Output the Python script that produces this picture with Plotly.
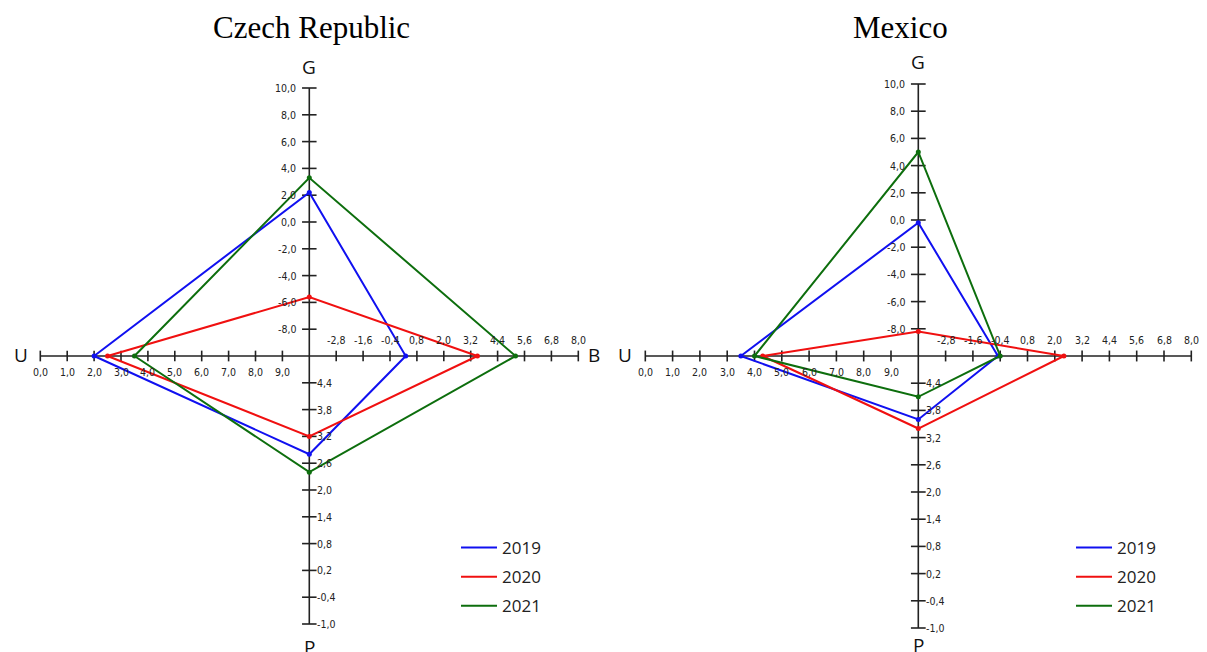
import plotly.graph_objects as go

# ---------------- data ----------------
years = ["2019", "2020", "2021"]
colors = ["#1010f0", "#f01010", "#0d6e0d"]

cz_U = [2.0, 2.5, 3.5]
cz_G = [2.2, -5.6, 3.3]
cz_B = [0.3, 3.5, 5.2]
cz_P = [2.8, 3.2, 2.4]

mx_U = [3.5, 4.3, 4.0]
mx_G = [-0.2, -8.2, 5.0]
mx_B = [-0.5, 2.4, -0.4]
mx_P = [3.6, 3.4, 4.1]

U_ticks = [0.0, 1.0, 2.0, 3.0, 4.0, 5.0, 6.0, 7.0, 8.0, 9.0]
B_ticks = [-2.8, -1.6, -0.4, 0.8, 2.0, 3.2, 4.4, 5.6, 6.8, 8.0]
G_ticks = [-8.0, -6.0, -4.0, -2.0, 0.0, 2.0, 4.0, 6.0, 8.0, 10.0]
P_ticks = [4.4, 3.8, 3.2, 2.6, 2.0, 1.4, 0.8, 0.2, -0.4, -1.0]

titles = ["Czech Republic", "Mexico"]

# ---------------- scales (arm units: 10 per arm) ----------------
def ux(u):
    return u - 10.0

def bx(b):
    return (b + 4.0) / 1.2

def gy(g):
    return (g + 10.0) / 2.0

def py(p):
    return (p - 5.0) / 0.6

def fmt(v):
    return ("%.1f" % v).replace(".", ",")

W, H = 1199, 644
fig = go.Figure()

panels = [
    dict(xa="x", ya="y", U=cz_U, G=cz_G, B=cz_B, P=cz_P, legend="legend", title=titles[0],
         ty=12.25, tx=0.08, gy_lab=10.8, py_lab=-10.86),
    dict(xa="x2", ya="y2", U=mx_U, G=mx_G, B=mx_B, P=mx_P, legend="legend2", title=titles[1],
         ty=12.06, tx=-0.67, gy_lab=10.8, py_lab=-10.62),
]

axis_col = "#222222"
tick_font = dict(family="DejaVu Sans Condensed, Liberation Sans Narrow, Arial", size=10.5, color="#222222")
lab_font = dict(family="Open Sans, Noto Sans, Arial", size=19, color="#111111")

annotations = []
for k, pn in enumerate(panels):
    xa, ya = pn["xa"], pn["ya"]
    # cross axes
    fig.add_trace(go.Scatter(x=[ux(0.0), bx(8.0), None, 0, 0], y=[0, 0, None, py(-1.0), gy(10.0)],
                             mode="lines", line=dict(color=axis_col, width=1.6),
                             xaxis=xa, yaxis=ya, showlegend=False, hoverinfo="skip"))
    # ticks
    tx, ty = [], []
    for u in U_ticks:
        tx += [ux(u), ux(u), None]; ty += [-0.2, 0.2, None]
    for b in B_ticks:
        tx += [bx(b), bx(b), None]; ty += [-0.2, 0.2, None]
    for g in G_ticks:
        tx += [-0.27, 0.27, None]; ty += [gy(g), gy(g), None]
    for p in P_ticks:
        tx += [-0.27, 0.27, None]; ty += [py(p), py(p), None]
    fig.add_trace(go.Scatter(x=tx, y=ty, mode="lines", line=dict(color=axis_col, width=1.6),
                             xaxis=xa, yaxis=ya, showlegend=False, hoverinfo="skip"))
    # tick labels
    for u in U_ticks:
        annotations.append(dict(x=ux(u), y=-0.6, xref=xa, yref=ya, text=fmt(u), showarrow=False,
                                font=tick_font, xanchor="center", yanchor="middle"))
    for b in B_ticks:
        annotations.append(dict(x=bx(b), y=0.58, xref=xa, yref=ya, text=fmt(b), showarrow=False,
                                font=tick_font, xanchor="center", yanchor="middle"))
    for g in G_ticks:
        annotations.append(dict(x=-0.42, y=gy(g), xref=xa, yref=ya, text=fmt(g), showarrow=False,
                                font=tick_font, xanchor="right", yanchor="middle"))
    for p in P_ticks:
        annotations.append(dict(x=0.22, y=py(p), xref=xa, yref=ya, text=fmt(p), showarrow=False,
                                font=tick_font, xanchor="left", yanchor="middle"))
    # axis letters
    annotations.append(dict(x=-10.4, y=0.05, xref=xa, yref=ya, text="U", showarrow=False, font=lab_font,
                            xanchor="right", yanchor="middle"))
    annotations.append(dict(x=10.3, y=0.05, xref=xa, yref=ya, text="B", showarrow=False, font=lab_font,
                            xanchor="left", yanchor="middle"))
    annotations.append(dict(x=0, y=pn["gy_lab"], xref=xa, yref=ya, text="G", showarrow=False, font=lab_font,
                            xanchor="center", yanchor="middle"))
    annotations.append(dict(x=0, y=pn["py_lab"], xref=xa, yref=ya, text="P", showarrow=False, font=lab_font,
                            xanchor="center", yanchor="middle"))
    # title
    annotations.append(dict(x=pn["tx"], y=pn["ty"], xref=xa, yref=ya, text=pn["title"],
                            showarrow=False, xanchor="center", yanchor="middle",
                            font=dict(family="Liberation Serif, Times New Roman, serif", size=31, color="#000000")))
    # polygons
    for i, yr in enumerate(years):
        xs = [ux(pn["U"][i]), 0, bx(pn["B"][i]), 0, ux(pn["U"][i])]
        ys = [0, gy(pn["G"][i]), 0, py(pn["P"][i]), 0]
        fig.add_trace(go.Scatter(x=xs, y=ys, mode="lines", name=yr,
                                 line=dict(color=colors[i], width=2),
                                 xaxis=xa, yaxis=ya, legend=pn["legend"],
                                 legendgroup=pn["legend"] + yr, showlegend=True))
        fig.add_trace(go.Scatter(x=xs[:4], y=ys[:4], mode="markers",
                                 marker=dict(color=colors[i], size=5),
                                 xaxis=xa, yaxis=ya, showlegend=False, hoverinfo="skip"))

ax_common = dict(visible=False, showgrid=False, zeroline=False, fixedrange=True)
leg_common = dict(font=dict(family="Open Sans, Noto Sans, Arial", size=17, color="#222222"),
                  bgcolor="rgba(0,0,0,0)", tracegroupgap=4, xanchor="left", yanchor="top",
                  itemwidth=36)
CX1, CX2, CY = 301.3, 910.3, 348.0
SPLIT = 602.0
fig.update_layout(
    width=W, height=H,
    margin=dict(l=0, r=0, t=0, b=0),
    paper_bgcolor="white", plot_bgcolor="white",
    xaxis=dict(domain=[0, SPLIT / W], range=[-CX1 / 26.9, (SPLIT - CX1) / 26.9], **ax_common),
    yaxis=dict(domain=[0, 1], range=[-(H - CY) / 26.8, CY / 26.8], **ax_common),
    xaxis2=dict(domain=[SPLIT / W, 1], range=[(SPLIT - CX2) / 27.3, (W - CX2) / 27.3], **ax_common),
    yaxis2=dict(domain=[0, 1], range=[-(H - CY) / 27.2, CY / 27.2], **ax_common),
    legend=dict(x=448 / W, y=1 - 522 / H, **leg_common),
    legend2=dict(x=1063 / W, y=1 - 522 / H, **leg_common),
    annotations=annotations,
    showlegend=True,
)

fig.write_html("out.html")
